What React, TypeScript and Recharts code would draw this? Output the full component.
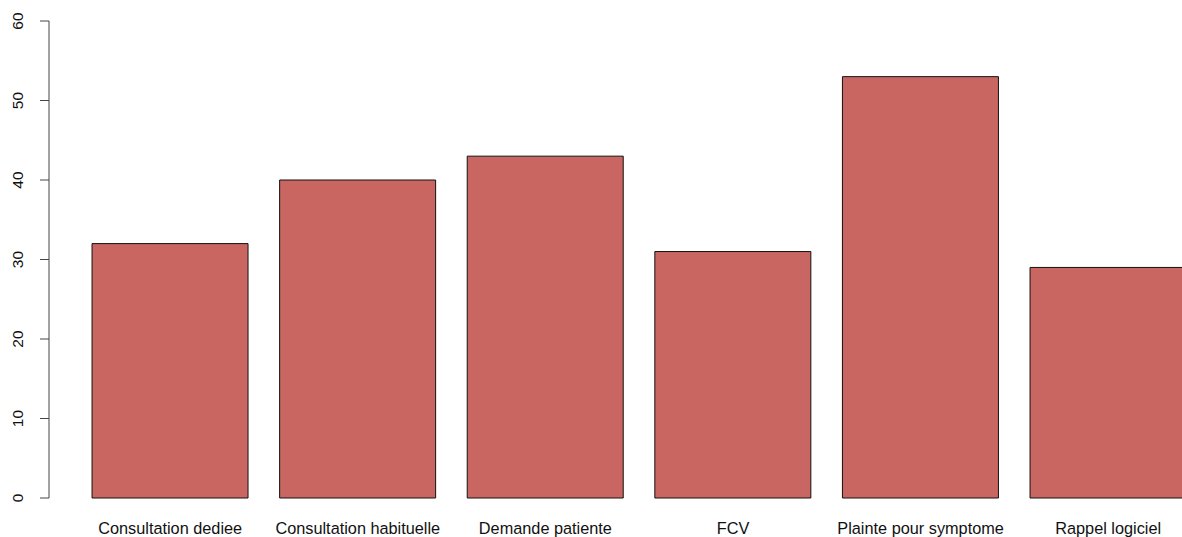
import { BarChart, Bar, XAxis, YAxis } from 'recharts'

const CATEGORIES = [
  'Consultation dediee',
  'Consultation habituelle',
  'Demande patiente',
  'FCV',
  'Plainte pour symptome',
  'Rappel logiciel',
]
const COUNTS = [32, 40, 43, 31, 53, 29]
const Y_TICKS = [0, 10, 20, 30, 40, 50, 60]

const data = CATEGORIES.map((name, i) => ({ name, value: COUNTS[i] }))

const FONT = '"Liberation Sans", Arial, sans-serif'

function YTick(props: any) {
  const { x, y, payload } = props
  const tx = x - 17
  return (
    <text
      x={tx}
      y={y}
      transform={`rotate(-90, ${tx}, ${y})`}
      textAnchor="middle"
      fontSize={15.5}
      fontFamily={FONT}
      fill="#111"
    >
      {payload.value}
    </text>
  )
}

function XTick(props: any) {
  const { x, y, payload } = props
  return (
    <text x={x} y={y + 35.7} textAnchor="middle" fontSize={16.3} fontFamily={FONT} fill="#111">
      {payload.value}
    </text>
  )
}

export default function App() {
  return (
    <div
      style={{
        position: 'fixed',
        left: 0,
        top: 0,
        width: 1182,
        height: 537,
        overflow: 'hidden',
        background: '#fff',
      }}
    >
      <BarChart
        width={1240}
        height={537}
        data={data}
        margin={{ top: 21, right: 38, bottom: 0, left: 0 }}
        barCategoryGap="8.333%"
      >
        <XAxis
          dataKey="name"
          height={39}
          axisLine={false}
          tickLine={false}
          tickSize={0}
          tickMargin={0}
          padding={{ left: 27.4, right: 0 }}
          interval={0}
          tick={<XTick />}
        />
        <YAxis
          width={49}
          domain={[0, 60]}
          ticks={Y_TICKS}
          tickSize={9}
          tickMargin={0}
          axisLine={{ stroke: '#444' }}
          tickLine={{ stroke: '#444' }}
          tick={<YTick />}
        />
        <Bar dataKey="value" fill="#C96662" stroke="#111" strokeWidth={1} isAnimationActive={false} />
      </BarChart>
    </div>
  )
}
